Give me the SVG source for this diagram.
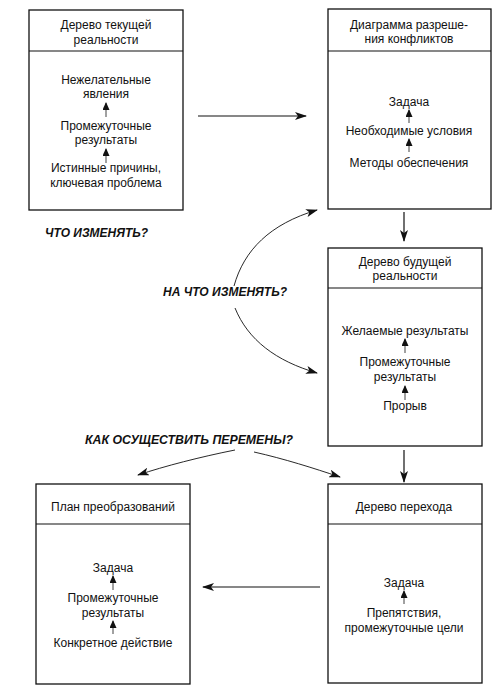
<svg xmlns="http://www.w3.org/2000/svg" width="499" height="691" viewBox="0 0 499 691">
<defs>
<style>
.box{fill:#fff;stroke:#111;stroke-width:1.3}
.div{stroke:#111;stroke-width:1.1}
.t{font-family:"Liberation Sans",Arial,sans-serif;font-size:12px;fill:#111;text-anchor:middle}
.q{font-family:"Liberation Sans",Arial,sans-serif;font-size:12px;font-weight:bold;font-style:italic;fill:#111}
.c{fill:none;stroke:#111;stroke-width:1.2}
.cc{fill:none;stroke:#111;stroke-width:0.9}
.s{fill:none;stroke:#111;stroke-width:0.8}
</style>
<marker id="ah" markerWidth="12" markerHeight="8" refX="11" refY="4" orient="auto" markerUnits="userSpaceOnUse">
<path d="M0,0 L12,4 L0,8 L3,4 Z" fill="#111"/>
</marker>
<marker id="sh" markerWidth="8" markerHeight="7" refX="7" refY="3.5" orient="auto" markerUnits="userSpaceOnUse">
<path d="M0,0 L8,3.5 L0,7 Z" fill="#111"/>
</marker>
</defs>
<rect width="499" height="691" fill="#fff"/>

<g id="n1">
<rect class="box" x="29" y="10" width="154" height="200"/>
<line class="div" x1="29" y1="51" x2="183" y2="51"/>
<text class="t" x="106" y="29">Дерево текущей</text>
<text class="t" x="106" y="44">реальности</text>
<text class="t" x="106" y="84">Нежелательные</text>
<text class="t" x="106" y="98">явления</text>
<line class="s" x1="106" y1="117" x2="106" y2="103" marker-end="url(#sh)"/>
<text class="t" x="106" y="130">Промежуточные</text>
<text class="t" x="106" y="144">результаты</text>
<line class="s" x1="106" y1="163" x2="106" y2="149" marker-end="url(#sh)"/>
<text class="t" x="106" y="172">Истинные причины,</text>
<text class="t" x="106" y="187">ключевая проблема</text>
</g>

<g id="n2">
<rect class="box" x="328" y="9" width="163" height="200"/>
<line class="div" x1="328" y1="51" x2="491" y2="51"/>
<text class="t" x="409" y="29">Диаграмма разреше-</text>
<text class="t" x="409" y="43">ния конфликтов</text>
<text class="t" x="409" y="106">Задача</text>
<line class="s" x1="409" y1="123" x2="409" y2="110" marker-end="url(#sh)"/>
<text class="t" x="409" y="135">Необходимые условия</text>
<line class="s" x1="409" y1="152" x2="409" y2="139" marker-end="url(#sh)"/>
<text class="t" x="409" y="167">Методы обеспечения</text>
</g>

<g id="n3">
<rect class="box" x="328" y="248" width="154" height="198"/>
<line class="div" x1="328" y1="288" x2="482" y2="288"/>
<text class="t" x="405" y="266">Дерево будущей</text>
<text class="t" x="405" y="280">реальности</text>
<text class="t" x="405" y="335">Желаемые результаты</text>
<line class="s" x1="405" y1="353" x2="405" y2="339" marker-end="url(#sh)"/>
<text class="t" x="405" y="366">Промежуточные</text>
<text class="t" x="405" y="381">результаты</text>
<line class="s" x1="405" y1="400" x2="405" y2="386" marker-end="url(#sh)"/>
<text class="t" x="405" y="410">Прорыв</text>
</g>

<g id="n4">
<rect class="box" x="36" y="484" width="154" height="200"/>
<line class="div" x1="36" y1="524" x2="190" y2="524"/>
<text class="t" x="113" y="511">План преобразований</text>
<text class="t" x="113" y="572">Задача</text>
<line class="s" x1="113" y1="590" x2="113" y2="576" marker-end="url(#sh)"/>
<text class="t" x="113" y="602">Промежуточные</text>
<text class="t" x="113" y="617">результаты</text>
<line class="s" x1="113" y1="634" x2="113" y2="621" marker-end="url(#sh)"/>
<text class="t" x="113" y="647">Конкретное действие</text>
</g>

<g id="n5">
<rect class="box" x="328" y="484" width="154" height="199"/>
<line class="div" x1="328" y1="524" x2="482" y2="524"/>
<text class="t" x="404" y="511">Дерево перехода</text>
<text class="t" x="404" y="587">Задача</text>
<line class="s" x1="404" y1="604" x2="404" y2="591" marker-end="url(#sh)"/>
<text class="t" x="404" y="617">Препятствия,</text>
<text class="t" x="404" y="632">промежуточные цели</text>
</g>

<g id="labels">
<text class="q" x="45" y="237" textLength="103" lengthAdjust="spacingAndGlyphs">ЧТО ИЗМЕНЯТЬ?</text>
<text class="q" x="163" y="296" textLength="124" lengthAdjust="spacingAndGlyphs">НА ЧТО ИЗМЕНЯТЬ?</text>
<text class="q" x="85" y="444" textLength="208" lengthAdjust="spacingAndGlyphs">КАК ОСУЩЕСТВИТЬ ПЕРЕМЕНЫ?</text>
</g>

<g id="connectors">
<line class="c" x1="198" y1="116" x2="306" y2="116" marker-end="url(#ah)"/>
<line class="c" x1="404" y1="212" x2="404" y2="241" marker-end="url(#ah)"/>
<line class="c" x1="404" y1="450" x2="404" y2="482" marker-end="url(#ah)"/>
<line class="c" x1="320" y1="587" x2="203" y2="587" marker-end="url(#ah)"/>
<path class="cc" d="M234,286 C244,250 270,224 317,210" marker-end="url(#ah)"/>
<path class="cc" d="M235,308 C248,340 276,361 317,373" marker-end="url(#ah)"/>
<path class="cc" d="M235,450 C200,457 165,466 138,475" marker-end="url(#ah)"/>
<path class="cc" d="M254,452 C285,459 313,468 340,477" marker-end="url(#ah)"/>
</g>
</svg>
